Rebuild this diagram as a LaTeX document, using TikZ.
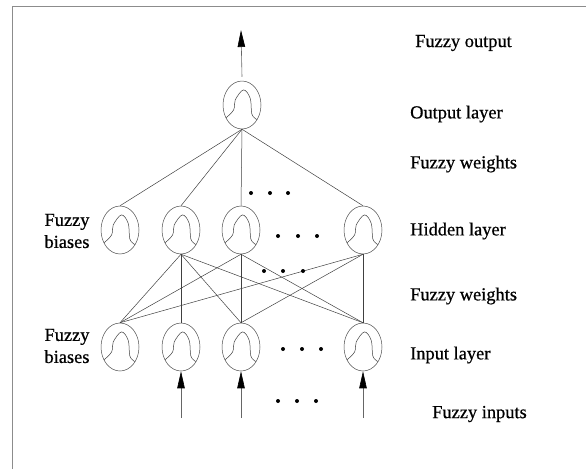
\documentclass[tikz,border=0pt]{standalone}
\usepackage{fontspec}
\setmainfont{Liberation Serif}[FakeBold=0.6]
\usetikzlibrary{shapes.geometric,arrows.meta}

\tikzset{
  neuron/.style={ellipse, draw=black!70, line width=0.5pt, inner sep=0pt,
    minimum width=38pt, minimum height=48pt,
    path picture={
      \begin{scope}[shift={(path picture bounding box.center)}]
        \draw[black!75, line width=0.5pt] plot[smooth, tension=0.6] coordinates {
          (-16.7pt,-13.4pt) (-8.4pt,-5pt) (-6.8pt,5pt) (1.5pt,15.1pt)
          (8.2pt,6.7pt) (9.7pt,-8.4pt) (13.1pt,-13.4pt) (15pt,-14.5pt)};
      \end{scope}}},
  wire/.style={black!75, line width=0.5pt},
  feed/.style={black!60, line width=0.6pt,
    -{Triangle[length=17pt,width=7.5pt,color=black]}},
  label/.style={font=\fontsize{18.4}{20}\selectfont, inner sep=0pt, anchor=west},
  sidelabel/.style={font=\fontsize{18.4}{22}\selectfont, inner sep=0pt, align=center},
  dot/.style={circle, fill=black, inner sep=0pt, minimum size=4pt},
}

\begin{document}
\begin{tikzpicture}[x=1pt, y=-1pt]
  \useasboundingbox (0,0) rectangle (586,469);

  % frame
  \draw[black!45, line width=0.8pt] (12,469) -- (12,6) -- (586,6);

  % neurons
  \node[neuron] (out) at (242,105) {};
  \node[neuron] (h1) at (120,230) {};
  \node[neuron] (h2) at (181,230) {};
  \node[neuron] (h3) at (241,230) {};
  \node[neuron] (h4) at (363,230) {};
  \node[neuron] (i1) at (120,347) {};
  \node[neuron] (i2) at (181,347) {};
  \node[neuron] (i3) at (241,347) {};
  \node[neuron] (i4) at (363,347) {};

  % output arrow
  \coordinate (otip) at (241,30);
  \draw[feed] ([yshift=4pt]out.north) -- (otip);

  % output-to-hidden weights
  \foreach \h in {h1,h2,h3,h4}
    \draw[wire] (out.south) -- (\h.north);

  % hidden-to-input weights
  \foreach \i in {i1,i2,i3,i4}
    \draw[wire] (h2.south) -- (\i.north);
  \foreach \h in {h3,h4}
    \foreach \i in {i1,i3,i4}
      \draw[wire] (\h.south) -- (\i.north);

  % fuzzy inputs
  \coordinate (x2) at (181,418);
  \coordinate (x3) at (241,418);
  \coordinate (x4) at (363,418);
  \draw[feed] (x2) -- (i2.south);
  \draw[feed] (x3) -- (i3.south);
  \draw[feed] (x4) -- (i4.south);

  % ellipsis dots
  \foreach \x/\y in {251/193, 270/193, 288/193,
                     278/236, 298/236, 317/236,
                     264/271, 283/271, 303/271,
                     283/349, 302/349, 321/349,
                     278/401, 297/401, 316/401}
    \node[dot] at (\x,\y) {};

  % layer captions
  \node[label] (tout)  at (415,43)  {Fuzzy output};
  \node[label] (tol)   at (410,114) {Output layer};
  \node[label] (tw1)   at (410,164) {Fuzzy weights};
  \node[label] (thl)   at (410,231) {Hidden layer};
  \node[label] (tw2)   at (410,296) {Fuzzy weights};
  \node[label] (til)   at (410,355) {Input layer};
  \node[label] (tin)   at (432,414) {Fuzzy inputs};

  % bias captions
  \node[sidelabel] (bh) at (67,231) {Fuzzy\\biases};
  \node[sidelabel] (bi) at (67,346) {Fuzzy\\biases};
\end{tikzpicture}
\end{document}
